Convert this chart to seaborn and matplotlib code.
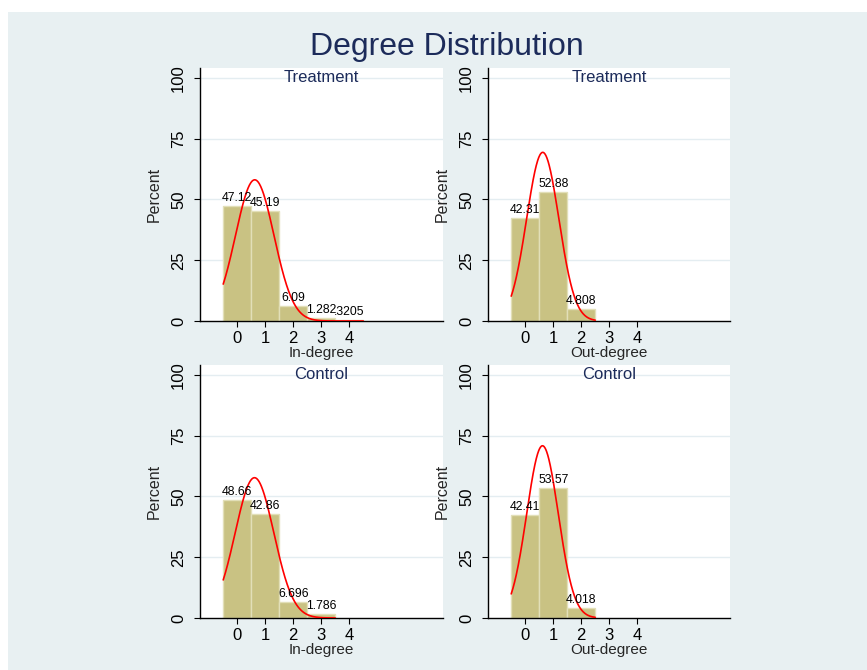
import numpy as np
import pandas as pd
import matplotlib
matplotlib.use("Agg")
import matplotlib.pyplot as plt
from matplotlib.patches import Rectangle
from matplotlib.transforms import blended_transform_factory
import seaborn as sns

# percent of nodes by degree
treat_in_deg = [0, 1, 2, 3, 4]
treat_in_pct = [47.12, 45.19, 6.09, 1.282, 0.3205]
treat_out_deg = [0, 1, 2]
treat_out_pct = [42.31, 52.88, 4.808]
ctrl_in_deg = [0, 1, 2, 3]
ctrl_in_pct = [48.66, 42.86, 6.696, 1.786]
ctrl_out_deg = [0, 1, 2]
ctrl_out_pct = [42.41, 53.57, 4.018]

y_ticks = [0, 25, 50, 75, 100]
x_ticks = [0, 1, 2, 3, 4]

BAR = "#c9c283"
NAVY = "#1c2b5a"
BG = "#e8f0f2"

sns.set_style("white")
plt.rcParams["font.family"] = ["Liberation Sans", "DejaVu Sans"]

W, H = 867, 670
fig = plt.figure(figsize=(W / 100, H / 100), dpi=100)
fig.patch.set_facecolor("white")
fig.patches.append(Rectangle((8 / W, 0), 1, 1 - 12 / H, transform=fig.transFigure,
                             facecolor=BG, edgecolor="none", zorder=-10))


def stata_fmt(v):
    s = f"{v:.4g}"
    if s.startswith("0."):
        s = s[1:]
    return s


def panel(rect, deg, pct, title, xlabel):
    x0, y0, x1, y1 = rect
    ax = fig.add_axes([x0 / W, 1 - y1 / H, (x1 - x0) / W, (y1 - y0) / H])
    ax.set_facecolor("white")
    df = pd.DataFrame({"deg": deg, "pct": pct})
    sns.histplot(data=df, x="deg", weights="pct", discrete=True, ax=ax,
                 color=BAR, alpha=1, edgecolor="#e2dfb8", linewidth=1, zorder=2)
    # normal density with the sample mean and sd, scaled to percent
    d = np.array(deg, float)
    w = np.array(pct, float) / 100
    mu = np.sum(d * w)
    sd = np.sqrt(np.sum(w * (d - mu) ** 2))
    xs = np.linspace(-0.5, max(deg) + 0.5, 300)
    ys = 100 * np.exp(-0.5 * ((xs - mu) / sd) ** 2) / (sd * np.sqrt(2 * np.pi))
    sns.lineplot(x=xs, y=ys, ax=ax, color="red", linewidth=1.2, zorder=4)
    for xv, v in zip(deg, pct):
        ax.annotate(stata_fmt(v), (xv, v), xytext=(0, 1.5), textcoords="offset points",
                    ha="center", va="bottom", fontsize=8.8, color="black", zorder=5)
    ax.set_xlim(-1.33, -1.33 + (x1 - x0) / 28)
    ax.set_ylim(0, 104.1)
    ax.set_yticks(y_ticks)
    ax.set_xticks(x_ticks)
    ax.set_yticklabels([str(t) for t in y_ticks], rotation=90, va="center")
    ax.tick_params(axis="both", direction="out", length=4, width=0.8,
                   labelsize=12, colors="black", bottom=True, left=True)
    ax.tick_params(axis="y", pad=6)
    ax.tick_params(axis="x", pad=3)
    for t in y_ticks[1:]:
        ax.axhline(t, color="#e4edf1", linewidth=1, zorder=1)
    for s in ["top", "right"]:
        ax.spines[s].set_visible(False)
    for s in ["left", "bottom"]:
        ax.spines[s].set_color("black")
        ax.spines[s].set_linewidth(1)
    ax.set_xlabel(xlabel, fontsize=11)
    ax.xaxis.set_label_coords(0.5, -25 / (y1 - y0))
    ax.xaxis.label.set_verticalalignment("top")
    ax.set_ylabel("Percent", fontsize=11.5)
    ax.yaxis.set_label_coords(-38 / (x1 - x0), 0.5)
    ax.text(0.5, 100, title, transform=blended_transform_factory(ax.transAxes, ax.transData),
            ha="center", va="center", fontsize=12, color=NAVY)
    return ax


panel((200, 68, 443, 321), treat_in_deg, treat_in_pct, "Treatment", "In-degree")
panel((488, 68, 730, 321), treat_out_deg, treat_out_pct, "Treatment", "Out-degree")
panel((200, 365, 443, 618), ctrl_in_deg, ctrl_in_pct, "Control", "In-degree")
panel((488, 365, 730, 618), ctrl_out_deg, ctrl_out_pct, "Control", "Out-degree")

fig.text(447 / W, 1 - 47 / H, "Degree Distribution", ha="center", va="center",
         fontsize=23, color=NAVY)

fig.savefig("out.png", dpi=100, facecolor=fig.get_facecolor())
